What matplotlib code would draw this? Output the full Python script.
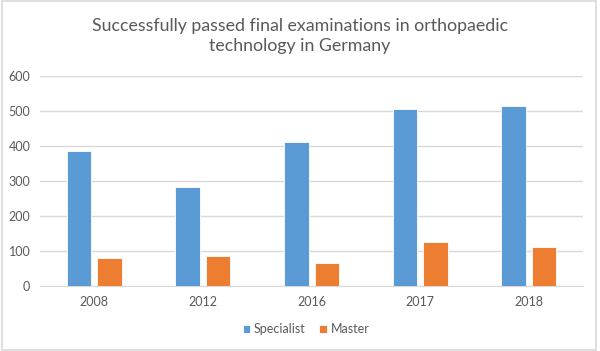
import matplotlib.pyplot as plt
import numpy as np
from matplotlib.patches import Rectangle

years = ['2008', '2012', '2016', '2017', '2018']
specialist = [385, 282, 412, 505, 513]
master = [81, 86, 66, 125, 111]

blue = '#5b9bd5'
orange = '#ed7d31'
grey = '#595959'

plt.rcParams['font.family'] = ['Lato', 'DejaVu Sans']

fig = plt.figure(figsize=(6, 3.51), dpi=100)
ax = fig.add_axes([0.0667, 0.185, 0.905, 0.599])

x = np.arange(len(years))
w = 0.225
ax.bar(x - 0.14, specialist, w, color=blue, edgecolor='white', linewidth=0.6, label='Specialist', zorder=3)
ax.bar(x + 0.14, master, w, color=orange, edgecolor='white', linewidth=0.6, label='Master', zorder=3)

ax.set_xlim(-0.5, len(years) - 0.5)
ax.set_ylim(0, 600)
ax.set_yticks(range(0, 601, 100))
ax.set_xticks(x)
ax.set_xticklabels(years)
ax.yaxis.grid(True, color='#d9d9d9', linewidth=1)
ax.set_axisbelow(True)
for s in ['top', 'right', 'left']:
    ax.spines[s].set_visible(False)
ax.spines['bottom'].set_color('#d9d9d9')
ax.tick_params(length=0, labelsize=9, colors=grey)
ax.tick_params(axis='y', pad=7)
ax.tick_params(axis='x', pad=7)

fig.text(0.5, 0.897, 'Successfully passed final examinations in orthopaedic\ntechnology in Germany',
         ha='center', va='center', fontsize=12.8, color=grey, linespacing=1.3)

fig.legend(loc='center', bbox_to_anchor=(0.51, 0.062), ncol=2, frameon=False, fontsize=9,
           labelcolor=grey, handlelength=0.6, handleheight=0.6, handletextpad=0.3, columnspacing=1.1)

fig.add_artist(Rectangle((0.003, 0.004), 0.99, 0.993, transform=fig.transFigure,
                         fill=False, edgecolor='#d9d9d9', linewidth=1.2))

fig.savefig('out.png', dpi=100)
